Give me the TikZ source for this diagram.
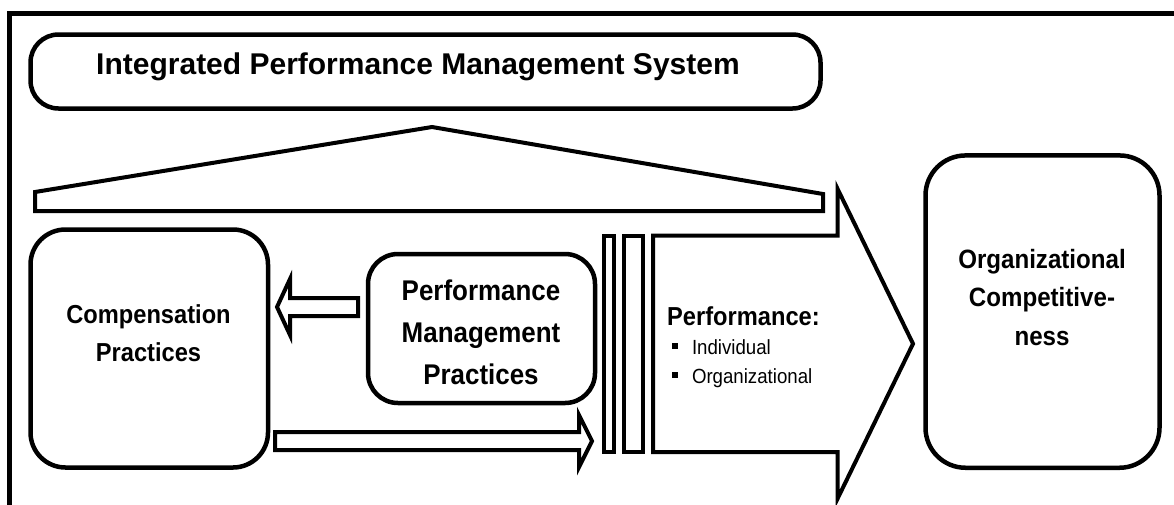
\documentclass[tikz,border=0pt]{standalone}
\usepackage{fontspec}
\setmainfont{Liberation Sans}
\newfontfamily\narrowsans[FakeStretch=0.91]{Liberation Sans}
\usetikzlibrary{calc}

% small square bullet followed by the item gap
\newcommand\sqbullet{\raisebox{4.7pt}{\rule{5.8pt}{6.2pt}}\hspace{14pt}}

% hollow block arrow: #1 start, #2 tip, #3 shaft half height,
% #4 head half height, #5 signed offset from tip to head base
\newcommand\hollowarrow[5]{%
  \draw[outline] let \p1=(#1), \p2=(#2) in
    (\x1,\y1+#3) -- (\x2#5,\y1+#3) -- (\x2#5,\y1+#4) -- (\x2,\y1)
    -- (\x2#5,\y1-#4) -- (\x2#5,\y1-#3) -- (\x1,\y1-#3) -- cycle;}

\begin{document}
\begin{tikzpicture}[x=1pt,y=1pt,
  outline/.style={draw=black, line width=4pt, line join=miter, fill=white},
  roundbox/.style={draw=black, line width=4.5pt, fill=white, inner sep=0pt},
  barbox/.style={draw=black, line width=4pt, fill=white, inner sep=0pt},
  boxtext/.style={inner sep=0pt, align=center, anchor=north},
]
\useasboundingbox (0,0) rectangle (1174,-504);
\fill[white] (0,0) rectangle (1174,-504);

% outer frame (open to the right and bottom)
\begin{scope}
  \clip (0,0) rectangle (1174,-504);
  \draw[line width=4.5pt] (9.5,-530) -- (9.5,-13.5) -- (1200,-13.5);
\end{scope}

% title banner
\node[roundbox, rounded corners=28pt, minimum width=790pt, minimum height=74pt]
  (ipms) at (425.5,-71.5) {};
\node[anchor=base, inner sep=0pt, font=\bfseries\fontsize{30}{36}\selectfont]
  (ipms-text) at (418,-74.5) {Integrated Performance Management System};

% roof
\draw[outline] (35,-211) -- (35,-192) -- (432,-127) -- (823,-194) -- (823,-211) -- cycle;

% boxes
\node[roundbox, rounded corners=35pt, minimum width=237.5pt, minimum height=238pt]
  (comp) at (149.25,-348.5) {};
\node[boxtext, font=\narrowsans\bfseries\fontsize{26}{38.7}\selectfont]
  (comp-text) at (148.5,-304) {Compensation\\Practices};

\node[roundbox, rounded corners=30pt, minimum width=227pt, minimum height=149pt]
  (pmp) at (481.5,-328.5) {};
\node[boxtext, font=\narrowsans\bfseries\fontsize{28.5}{42}\selectfont]
  (pmp-text) at (481,-279.5) {Performance\\Management\\Practices};

\node[roundbox, rounded corners=40pt, minimum width=234pt, minimum height=312.3pt]
  (oc) at (1042.5,-311.6) {};
\node[boxtext, font=\narrowsans\bfseries\fontsize{26.5}{38.5}\selectfont]
  (oc-text) at (1042,-248.7) {Organizational\\Competitive-\\ness};

% double bar
\node[barbox, minimum width=10pt, minimum height=216.5pt] (bar1) at (609,-343.75) {};
\node[barbox, minimum width=19pt, minimum height=216.5pt] (bar2) at (633.5,-343.75) {};

% connectors
\coordinate (la-s) at ($(pmp.west |- 0,-307)+(-7.75,0)$);
\coordinate (la-t) at ($(comp.east |- 0,-307)+(6.75,0)$);
\hollowarrow{la-s}{la-t}{9pt}{28pt}{+13pt}

\coordinate (ba-s) at ($(comp.east |- 0,-441)+(4.75,0)$);
\coordinate (ba-t) at ($(bar1.west |- 0,-441)+(-10,0)$);
\hollowarrow{ba-s}{ba-t}{9pt}{26pt}{-13pt}

\coordinate (ga-s) at ($(bar2.east)+(8,0)$);
\coordinate (ga-t) at ($(oc.west |- bar2.east)+(-10.25,0)$);
\hollowarrow{ga-s}{ga-t}{108.25pt}{155pt}{-75.5pt}

% performance list inside the large arrow
\node[anchor=base west, inner sep=0pt, font=\narrowsans\bfseries\fontsize{26}{30}\selectfont]
  (perf) at (667,-325) {Performance:};
\node[anchor=base west, inner sep=0pt, font=\narrowsans\fontsize{20.5}{24}\selectfont]
  (perf-ind) at (672,-354) {\sqbullet Individual};
\node[anchor=base west, inner sep=0pt, font=\narrowsans\fontsize{20.5}{24}\selectfont]
  (perf-org) at (672,-383) {\sqbullet Organizational};
\end{tikzpicture}
\end{document}
